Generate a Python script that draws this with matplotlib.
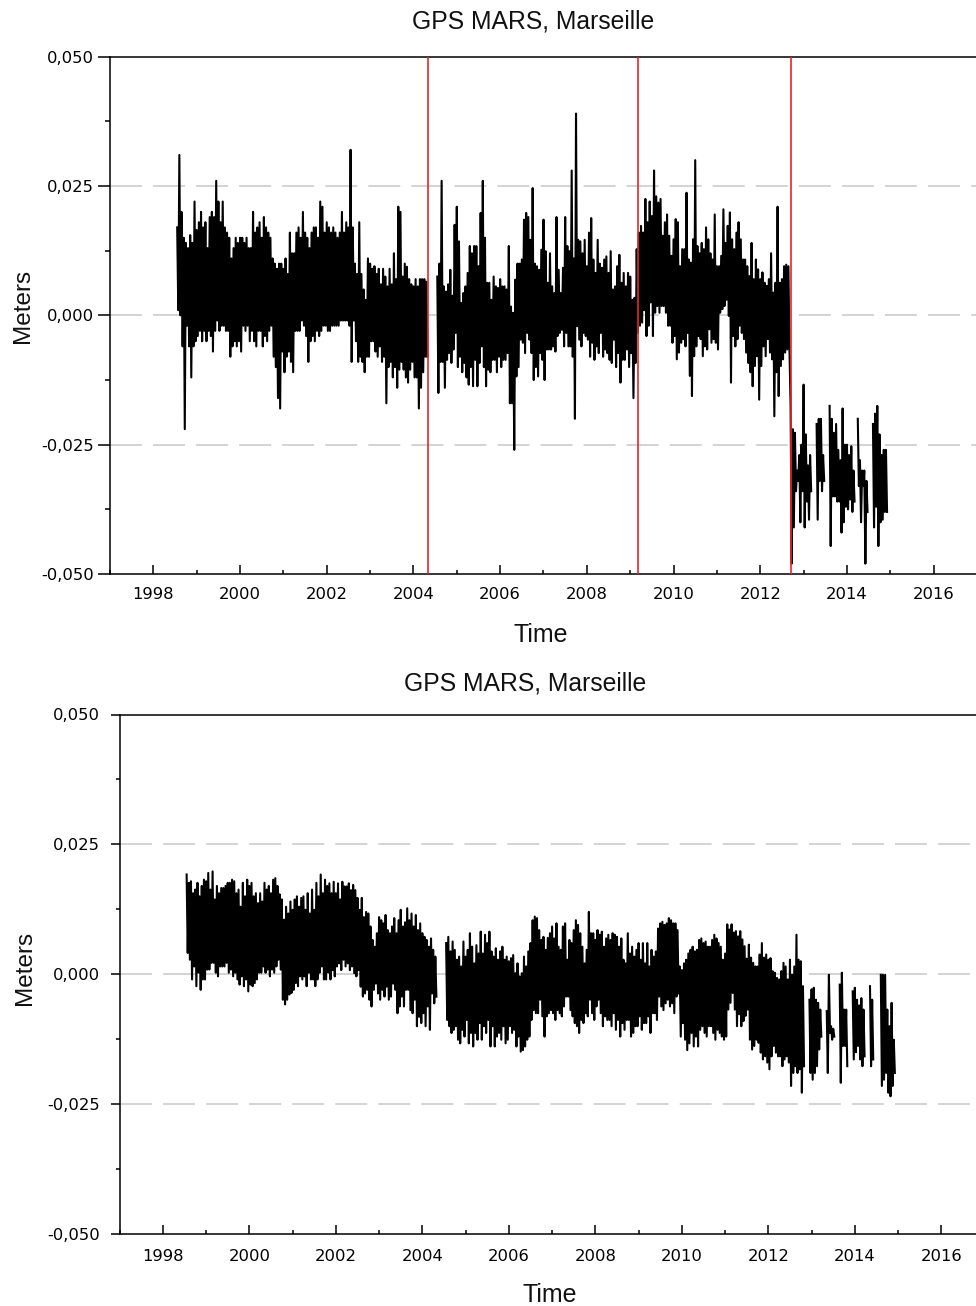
import numpy as np
import matplotlib
matplotlib.use("Agg")
import matplotlib.pyplot as plt
from matplotlib.ticker import FixedLocator, MultipleLocator, FuncFormatter

# ---------------------------------------------------------------------------
# GPS station MARS (Marseille), vertical component in millimetres.
# Each step of 0.05 yr holds one high / one low sample of the daily series.
# ---------------------------------------------------------------------------
T0 = 1998.55
STEP = 0.05
EQUIPMENT_CHANGES = [2004.34, 2009.17, 2012.70]
TITLE = "GPS MARS, Marseille"
XLABEL = "Time"
YLABEL = "Meters"
X_RANGE = (1997, 2017)
Y_MAJOR = [-0.050, -0.025, 0.000, 0.025, 0.050]
Y_MINOR = [-0.0375, -0.0125, 0.0125, 0.0375]

# raw solution
raw_hi_mm = [
    17, 31, 20, 15, 14, 13, 15.5, 14, 22, 16.5, 18, 20, 17, 18, 13, 19, 20, 19, 26, 22,
    18, 22, 17, 16, 15, 11, 13, 15, 14, 15, 15, 14, 15, 13, 13, 20, 16, 17, 18, 15,
    19, 17, 16, 15, 11, 10, 9, 10, 10, 9, 11, 8, 16, 12, 12, 16, 17, 15, 20, 16,
    15, 13, 16, 17, 17, 15, 22, 21, 16, 18, 17, 16, 17, 16, 15, 16, 20, 16, 18, 17,
    32, 17, 10, 8, 18, 8, 5, 3, 11, 10, 9, 9.5, 8, 9, 6, 9, 7.5, 5.6, 9, 6,
    12, 7, 21, 20, 7.5, 10, 9.4, 7, 6, 5.6, 7, 5.6, 7, 7, 7, 6.5,
    None, None, None, None,
    7.5, 10, 26, 5.6, 4.6, 6, 8.8, 3.8, 17.5, 21, 14.3, 2.4, 4.3, 5.6, 8.2, 13.4, 12, 13.4, 13.4, 9.5,
    19.8, 26, 15, 6.3, 6.3, 3, 7.5, 5.6, 5.3, 7, 5.6, 5.6, 5, 13.4, 1.7, 0.5, 6.9, 10, 10, 10.8,
    18.5, 19.8, 19, 14.6, 24.6, 10, 9.5, 8.8, 12.7, 18.5, 12.4, 6.3, 12, 5.6, 4.3, 19, 8.8, 4.3, 9.2, 19,
    13.4, 12.4, 28, 11, 39, 14.6, 14.3, 12, 14.6, 9.5, 16, 18.8, 10.8, 8.2, 14.6, 10, 9.2, 10.8, 11.4, 8.2,
    12.4, 5, 5.6, 9.5, 11.7, 6.3, 8.2, 5.6, 8.2, 7.5, 3, 3.4,
    12.8, 16, 17.3, 16, 22.5, 18, 22, 19.2, 28, 23, 21.8, 22.5, 15.4, 18, 19.5, 15.4, 11.5, 14.7, 18.6, 18,
    9.5, 12.8, 12.8, 23.7, 10.8, 10.2, 14.7, 30, 13.4, 12, 14, 12.8, 17, 14.7, 12, 10.8, 19.5, 9.5, 9.5, 11.5,
    20.5, 14, 17.3, 19.9, 14.7, 12.8, 16, 18, 14.7, 10.8, 10.8, 9.5, 7.6, 14, 7, 10.8, 8.9, 7, 8.3, 6.3,
    5.7, 7, 12, 4.4, 6.3, 21, 6.3, 7, 9.5, 9.8, 9.5,
    -17.5, -22, -22.7, -30, -27, -25, -13.4, -23, -29, -27, None, None, -21, -20, -20, -27, None, None, -17.5, -20,
    -22.7, -21, -26, -28, -18, -25, -25, -27, -25.3, -30, None, -20, -28, -30, -30, -32, None, None, -21, -19,
    -17.5, -23, -27, -26, -26,
]
raw_lo_mm = [
    1, 0, -6, -22, -2, -6, -12, -6, -5, -4, -3, -5, -3, -5, -3, -4, -7, -3, -1, -3,
    -2, -2, -3, -3, -8, -6, -5, -6, -5, -7, -2, -3, -2, -5, -3, -5, -6, -3, -3, -6,
    -4, -5, -3, -2, -8, -10, -16, -18, -7, -11, -8, -7, -9, -11, -3, -3, -3, -1, -2, -4,
    -9, -5, -4, -5, -3, -4, -3, -2, -2, -3, -3, -2, -2, -2, -2, -1, -1, -1, -1, -2,
    -9, -1, -5, -9, -8, -9, -11, -8, -8, -5, -5, -7, -8, -6, -9, -8, -17, -10, -9, -12,
    -10, -14, -10.5, -9, -10.5, -12, -13, -10.5, -9, -12, -12, -18, -14, -11, -8, -8,
    None, None, None, None,
    -15, -9, -9, -14, -8.6, -7.3, -9.2, -6.6, -3.4, -10, -8, -11, -9.2, -12, -13.4, -10, -13.7, -8.6, -13.7, -9.2,
    -6, -10, -13.7, -10.5, -11, -8.6, -8.6, -11, -8, -10, -8.6, -8.6, -7.3, -17, -17, -26, -11.8, -10, -4.7, -5.3,
    -7.3, -3.4, -4.7, -7.3, -12.5, -10, -11.8, -7.3, -8.6, -12.5, -6.6, -6.6, -6.6, -6, -7, -4, -3.4, -2.8, -6, -3.4,
    -6, -6, -8, -20, -2.1, -4.7, -6, -3.4, -4, -4.7, -8, -5.3, -8.6, -6, -7.3, -3.4, -8, -6.6, -7.3, -8.6,
    -9.2, -4.7, -10, -7.3, -13, -8.6, -8.6, -6.6, -10, -7.3, -16, -9.2,
    -3.4, -2, -1.4, 1, -4, -2, 2.5, -4, 0.5, 1.8, 0.5, 1.8, 1.8, 0.5, -2, -2, -5.3, -4, -8.5, -7.2,
    -5.3, -4.6, -6, -3.4, -11.7, -15.6, -7.9, -6, -4, -4.6, -7.9, -6, -6.6, -2.7, -5.3, -4.6, -5.3, -6.6, 0.5, 1.2,
    1.8, 3, -0.1, -13, -4, -6, -4.6, -2, -3.4, -4.6, -7.2, -9.2, -11, -13.7, -9.8, -7.9, -16.3, -9.8, -6, -7.9,
    -4.6, -7.2, -8.5, -19.5, -11, -15.6, -9.8, -8.5, -7.2, -6.6, -7,
    -48, -41, -34, -32, -40, -34, -41, -36, -39.5, -34, None, None, -39.5, -32, -34, -32, None, None, -44.6, -35,
    -35, -36, -36, -42, -40, -37, -37.5, -35.6, -38, -36, None, -33, -40, -33, -48, -38, None, None, -41, -37,
    -44.6, -40, -39.5, -38, -38,
]

# corrected solution (offsets removed)
corr_hi_mm = [
    19.2, 17.6, 17.9, 15.6, 16.3, 17.6, 15, 17, 18.2, 17.9, 19.5, 16.3, 19.8, 14.4, 17, 15.6, 16.6, 16.6, 17, 17.6,
    17.6, 18.2, 17.9, 15.6, 16.3, 13, 17.6, 15, 18.2, 17, 17.6, 15, 15.6, 13.7, 15.6, 14, 17.6, 16.3, 17, 15.6,
    18.2, 18.5, 17, 15.4, 14.4, 10.5, 13, 11.7, 14, 12.4, 14.4, 15, 13, 14.7, 15, 12.4, 15.6, 11.7, 16.3, 12.4,
    17.6, 15, 19.2, 15.6, 18.2, 17,
    17.5, 15.6, 17.8, 15.6, 17.5, 14.4, 17.8, 16.9, 16.9, 17.5, 16.2, 17.2, 16.2, 14.7, 12.4, 14.7, 11, 12, 11.7, 9.2,
    6.6, 5.3, 7.9, 11, 10.4, 9.8, 11.4, 8.5, 7.9, 9.2, 10.8, 7.9, 10.4, 12.4, 9.2, 10, 12.7, 10.4, 11.7, 9.2,
    11.4, 8.5, 9.8, 7.9, 7.2, 6.6, 5.3, 6.9, 4.7, 3.4,
    None, None, None, None,
    6, 7.2, 4.4, 6.3, 4.7, 2.8, 3.4, 1.5, 6.3, 3.4, 4.7, 7.9, 5.3, 2.1, 5.6, 4, 8.2, 4, 7.6, 6,
    8.2, 4.4, 3.4, 5, 2.8, 4.4, 5.3, 2.8, 3.4, 2.5, 3.1, 3.7, 0.2, 2.1, -0.4, 0.2, 3.4, 1.5, 4.4, 6,
    10.4, 11.1, 10.8, 8.5, 6.6, 7.2, 4.7, 7, 7.9, 9.2, 6.9, 9.8, 5.3, 4.7, 9.2, 9.8, 2.8, 6.6, 6, 8.5,
    10.4, 9.5, 7.9, 5.3, 2.1, 4.7, 12, 7.9, 7.9, 6.6, 8.5, 7.6, 8.2, 5.3, 6.9, 7.6, 6.6, 7.9, 7.6, 7.2,
    5.3, 6.9, 2.8, 2.1, 7.9, 4, 5.3, 3.4, 4.7, 6, 2.8, 6, 2.1, 6, 1.5, 4.7, 3.4, 4.4, 8.8, 9.8,
    10.1, 9.5, 9.8, 10.8, 10.4, 9.8, 9.8, 8.5, 1.5, 0.8, 2.1, 2.8, 4, 4.7, 5.3, 4.4, 4.7, 6.6, 6.9, 6,
    6.3, 5.3, 5.3, 6.6, 7.6, 6.9, 6, 5.3, 2.8, 4,
    9.6, 8.6, 9.6, 8, 8.3, 7.3, 8.3, 6.7, 5.4, 3, 5.7, 3.2, 2.2, 1.5, 1.5, 3.8, 6, 3.2, 3.8, 2.8,
    3.1, 0.6, 0.3, -0.7, -1, 0.6, 2.2, 1.5, -1, 2.8, -0.1, 1.5, 7.6, 2.8, 2.5, -2.3, None, None, -4.9, -2.9,
    -2.6, -4.9, -5.5, -6.8, None, None, -7.1, -0.1, -10, -10.5, None, None, -2, 0.3, -6.8, -6.8, None, None, -3.3, -2.6,
    -4.9, -6, -4.6, -6.8, None, None, -2.3, -4.9, None, None, None, -0.1, -0.1, -0.1, -6.8, -10, -5.5, -12.6,
]
corr_lo_mm = [
    4.1, 2.8, -1, 1.5, -2.3, 0.3, -3, -1, -1, 0.9, 0.9, 2.2, 2.2, 0.3, -0.4, 1.5, 1.5, 1.5, 2.2, 0.3,
    0.9, -0.4, 0.3, -1, -2, -0.4, -2.3, -1, -3.3, -2, -2.3, -1.7, -1, 0.3, 0.3, 1.5, 0.3, 0.9, -0.4, 0.9,
    0.3, 1.5, 2.8, 0.9, -4.9, -5.8, -4.9, -3.9, -3.6, -3, -1.7, -2.3, -0.4, -1, -0.4, -2.3, 0.3, -1, -1, -2.3,
    -1, 0.3, 1.5, -1, -1, 0.3,
    -1, 0.8, -0.4, 1.5, 2.1, 0.8, 2.8, 1.5, 2.1, 0.8, 1.5, 0.2, -0.4, 0.8, -2.4, -4.3, -3.7, -3, -4.9, -6.2,
    -3, -1.8, -3.7, -4.9, -3, -4.3, -2.4, -4.9, -4.3, -1.8, -3, -7.5, -6.2, -4.3, -6.2, -3, -3, -6.9, -7.5, -4.9,
    -10, -8.2, -9.4, -7.5, -10, -6.2, -10.7, -3.7, -5.6, -4.3,
    None, None, None, None,
    -8.8, -10, -11.3, -10.7, -10, -12.6, -13.3, -10.7, -12, -8.8, -13.3, -11.3, -13.9, -11.3, -12.6, -9.4, -12.6, -10, -11.3, -8.8,
    -13.9, -10, -13.9, -12, -11.3, -12.6, -10, -13.3, -12.6, -10, -11.3, -10.7, -13.9, -12, -14.9, -14.6, -13.9, -12.6, -12, -8.8,
    -6.9, -7.5, -7.5, -4.9, -8.1, -12, -8.1, -7.5, -6.9, -7.5, -8.8, -6.9, -7.5, -8.1, -6.2, -4.3, -4.3, -6.9, -8.1, -9.4,
    -10, -11.3, -8.8, -9.4, -7.5, -8.1, -4.9, -7.5, -8.8, -6.2, -4.9, -7.5, -10, -8.1, -8.8, -8.8, -10, -7.5, -10.7, -8.8,
    -12, -9.4, -10.7, -8.8, -8.8, -12, -11.3, -10, -10, -8.1, -10.7, -9.4, -9.4, -8.1, -11.3, -7.5, -7.5, -8.8, -4.3, -6.2,
    -6.9, -5.6, -4.9, -6.2, -5.6, -7.5, -4.3, -3.7, -12, -9.4, -12.6, -14.6, -13.3, -11.3, -13.9, -12, -13.9, -10.7, -10, -11.3,
    -12, -10, -10, -11.3, -12.6, -10.7, -11.3, -12, -12.6, -12,
    -6.8, -5.5, -3.6, -6.8, -10, -7.7, -10, -9, -8, -6.8, -12.6, -14.5, -13.8, -12.6, -13.2, -15.1, -16.4, -15.8, -17, -18.3,
    -15.8, -13.8, -15.1, -15.8, -15.8, -17.7, -16.4, -15.8, -17, -21.5, -19, -17.7, -19, -18.3, -22.8, -17.7, None, None, -19, -20.3,
    -19, -17.7, -14.5, -12, None, None, -19, -11.3, -12.6, -12, None, None, -20.9, -13.8, -13.8, -17.7, None, None, -16.4, -15,
    -13.8, -16.4, -17.7, -15.8, None, None, -17.7, -16.4, None, None, None, -21.5, -20.3, -19, -22.8, -23.5, -21.5, -19,
]


def zigzag(hi_mm, lo_mm):
    """Interleave high/low samples into one trace (metres)."""
    n = min(len(hi_mm), len(lo_mm))
    hi = np.array([np.nan if v is None else v for v in hi_mm[:n]], float)
    lo = np.array([np.nan if v is None else v for v in lo_mm[:n]], float)
    t = T0 + STEP * np.arange(n)
    x = np.empty(2 * n)
    y = np.empty(2 * n)
    x[0::2], x[1::2] = t, t + STEP / 2
    y[0::2], y[1::2] = hi, lo
    return x, y / 1000.0


def comma_fmt(v, _pos):
    if abs(v) < 1e-9:
        v = 0.0
    return f"{v:.3f}".replace(".", ",")


W, H = 976, 1306
fig = plt.figure(figsize=(W / 100, H / 100), dpi=100)

GRID = "#c8c8c8"
plt.rcParams["lines.scale_dashes"] = False
TICK_FONT = {"family": "DejaVu Sans", "size": 11.8}
LABEL_FONT = "Liberation Sans"
TRACE_LW = 1.5


def px_axes(left, top, right, bottom):
    return fig.add_axes([left / W, 1 - bottom / H, (right - left) / W, (bottom - top) / H])


def style_axes(ax, ytick_len, ytick_minor, ypad, xpad):
    ax.set_xlim(*X_RANGE)
    ax.set_ylim(Y_MAJOR[0], Y_MAJOR[-1])
    ax.yaxis.set_major_locator(FixedLocator(Y_MAJOR))
    ax.yaxis.set_minor_locator(FixedLocator(Y_MINOR))
    ax.yaxis.set_major_formatter(FuncFormatter(comma_fmt))
    ax.xaxis.set_major_locator(MultipleLocator(2))
    ax.xaxis.set_minor_locator(MultipleLocator(1))
    ax.xaxis.set_major_formatter(FuncFormatter(lambda v, p: f"{int(round(v))}"))
    for s in ("left", "top", "bottom"):
        ax.spines[s].set_linewidth(1.1)
        ax.spines[s].set_color("black")
    ax.spines["right"].set_visible(False)
    ax.tick_params(axis="y", which="major", direction="out", length=ytick_len, width=1.1,
                   pad=ypad, labelsize=TICK_FONT["size"])
    ax.tick_params(axis="y", which="minor", direction="out", length=ytick_minor, width=1.1)
    ax.tick_params(axis="x", which="major", direction="in", length=6.5, width=1.1,
                   pad=xpad, labelsize=TICK_FONT["size"], top=False)
    ax.tick_params(axis="x", which="minor", direction="in", length=2.6, width=1.1, top=False)
    for lab in ax.get_xticklabels() + ax.get_yticklabels():
        lab.set_fontfamily(TICK_FONT["family"])
    for yv in Y_MAJOR[1:-1]:
        ax.axhline(yv, color=GRID, lw=1.1, linestyle=(0, (23, 8)), zorder=1)


# ---- upper panel: raw series with equipment changes ----
ax1 = px_axes(110, 56.7, 977, 574)
style_axes(ax1, ytick_len=9.0, ytick_minor=3.8, ypad=2.6, xpad=9.3)
x, y = zigzag(raw_hi_mm, raw_lo_mm)
ax1.plot(x, y, color="black", lw=TRACE_LW, zorder=2)
for b in EQUIPMENT_CHANGES:
    ax1.axvline(b, color="#e8262a", lw=1.2, zorder=3)

# ---- lower panel: corrected series ----
ax2 = px_axes(119.6, 714.5, 984.6, 1234)
style_axes(ax2, ytick_len=6.7, ytick_minor=3.1, ypad=7.4, xpad=10.6)
x, y = zigzag(corr_hi_mm, corr_lo_mm)
ax2.plot(x, y, color="black", lw=TRACE_LW, zorder=2)

# ---- titles and axis labels ----
def put(xp, yp, s, size, **kw):
    fig.text(xp / W, 1 - yp / H, s, fontsize=size, family=LABEL_FONT, color="#111111", **kw)

put(533, 29, TITLE, 17.8, ha="center", va="baseline")
put(525, 691, TITLE, 17.8, ha="center", va="baseline")
put(541, 642, XLABEL, 18, ha="center", va="baseline")
put(550, 1302, XLABEL, 18, ha="center", va="baseline")
put(29.3, 306, YLABEL, 17.5, ha="center", va="baseline", rotation=90, rotation_mode="anchor")
put(31, 967.5, YLABEL, 17.5, ha="center", va="baseline", rotation=90, rotation_mode="anchor")

fig.savefig("out.png", dpi=100)
